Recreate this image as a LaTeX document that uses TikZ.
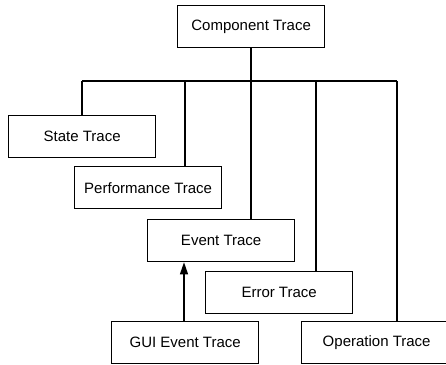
\documentclass[tikz,border=0pt]{standalone}
\usepackage{fontspec}
\setmainfont{Liberation Sans}
\usetikzlibrary{arrows.meta}
\begin{document}
\begin{tikzpicture}[x=1pt,y=-1pt,
  box/.style={draw,line width=1.3pt,minimum width=147pt,minimum height=42pt,inner sep=0pt,font=\fontsize{15}{17}\selectfont,anchor=north west},
  conn/.style={line width=1.1pt}]
\useasboundingbox (0,0) rectangle (446,364);
\node[box] (comp) at (177,5) {Component Trace};
\node[box] (state) at (8,115) {State Trace};
\node[box] (perf) at (74,166) {Performance Trace};
\node[box] (event) at (147,219) {Event Trace};
\node[box] (err) at (205,271) {Error Trace};
\node[box,minimum width=150pt] (oper) at (301,321) {Operation Trace};
\node[box] (gui) at (111,321) {GUI Event Trace};
\coordinate (bus) at (251,81);
\coordinate (busL) at (82,81);
\coordinate (busR) at (397,81);
\draw[conn] (comp.south -| bus) -- (bus);
\draw[conn] (busL) -- (busR);
\draw[conn] (busL) -- (busL |- state.north);
\draw[conn] (185,81) -- (185,166);
\draw[conn] (bus) -- (bus |- event.north);
\draw[conn] (316,81) -- (err.north -| 316,0);
\draw[conn] (busR) -- (busR |- oper.north);
\draw[conn,-{Triangle[length=12pt,width=8pt]}] (gui.north -| 184,0) -- (event.south -| 184,0);
\end{tikzpicture}
\end{document}
